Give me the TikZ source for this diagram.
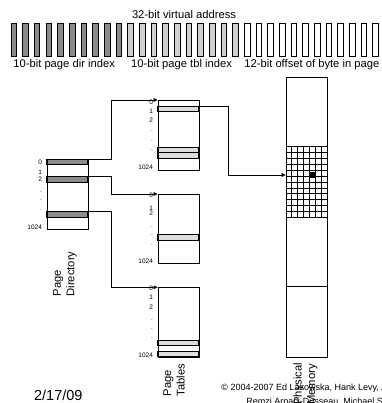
\documentclass[tikz,border=0pt]{standalone}
\usepackage{fontspec}
\setmainfont{Liberation Sans}
\usetikzlibrary{arrows.meta,calc}
\definecolor{bitdark}{HTML}{8A8A8A}
\definecolor{bitlight}{HTML}{D0D0D0}
\definecolor{banddark}{HTML}{8C8C8C}
\definecolor{bandlight}{HTML}{DDDDDD}
\begin{document}
\begin{tikzpicture}[x=1pt,y=-1pt,line width=0.8pt,
  tbl/.style={draw,inner sep=0pt,minimum width=40.8pt,minimum height=69.5pt,anchor=north west},
  rowlbl/.style={font=\fontsize{6.5}{7}\selectfont,anchor=base east,inner sep=0pt},
  lbl/.style={font=\fontsize{11.2}{13.4}\selectfont,inner sep=0pt},
  vlbl/.style={font=\fontsize{11.2}{13.4}\selectfont,inner sep=0pt,align=left,rotate=90,anchor=west},
  arr/.style={-{Triangle[length=4pt,width=3.6pt]}},
  bitbox/.style={draw,line width=0.9pt},
  dband/.style={draw,fill=banddark},
  lband/.style={draw,fill=bandlight},
  foot/.style={inner sep=0pt,anchor=base west,font=\fontsize{9}{10}\selectfont}
]
\useasboundingbox (0,0) rectangle (381,403);
\fill[white] (0,0) rectangle (381,403);

% virtual address bits
\node[lbl,anchor=base] (title) at (184,19) {32-bit virtual address};
\foreach \i in {0,...,31}{
  \pgfmathsetmacro{\xx}{11+\i*11.67}
  \ifnum\i<10 \def\bc{bitdark}\else\ifnum\i<20 \def\bc{bitlight}\else\def\bc{white}\fi\fi
  \draw[bitbox,fill=\bc] (\xx,23) rectangle ++(5.6,33);
}
\node[lbl,anchor=base west] (l1) at (13,68) {10-bit page dir index};
\node[lbl,anchor=base west] (l2) at (130.7,68) {10-bit page tbl index};
\node[lbl,anchor=base west] (l3) at (244,68) {12-bit offset of byte in page};

% page directory
\draw[dband] (46.7,159) rectangle (87.7,164.3);
\draw[dband] (46.7,176.7) rectangle (87.7,182.3);
\draw[dband] (46.7,211) rectangle (87.7,217.3);
\node[tbl,minimum width=41pt,minimum height=70pt] (pd) at (46.7,159) {};
\node[rowlbl] at (42.3,164.1) {0};
\node[rowlbl] at (42.3,174.1) {1};
\node[rowlbl] at (42.3,181.7) {2};
\node[rowlbl] at (42.3,192) {.};
\node[rowlbl] at (42.3,200.5) {.};
\node[rowlbl] at (42.3,210.5) {.};
\node[rowlbl] at (42.3,229) {1024};
\node[vlbl] (pdl) at (65,296.7) {Page\\Directory};

% page table 1
\draw[lband] (157.7,106) rectangle (198.5,111.7);
\draw[lband] (157.7,147) rectangle (198.5,152.7);
\draw[lband] (157.7,152.7) rectangle (198.5,158.5);
\node[tbl] (pt1) at (157.7,100) {};
\node[rowlbl] at (153.3,105) {0};
\node[rowlbl] at (153.3,114) {1};
\node[rowlbl] at (153.3,122.4) {2};
\node[rowlbl] at (153.3,132) {.};
\node[rowlbl] at (153.3,141.3) {.};
\node[rowlbl] at (153.3,150.3) {.};
\node[rowlbl] at (153.3,170) {1024};

% page table 2
\draw[lband] (157.7,234) rectangle (198.5,240);
\node[tbl,minimum height=68.7pt] (pt2) at (157.7,194) {};
\node[rowlbl] at (153.3,197.4) {0};
\node[rowlbl] at (153.3,210.7) {1};
\node[rowlbl] at (153.3,215.7) {2};
\node[rowlbl] at (153.3,227) {.};
\node[rowlbl] at (153.3,235.3) {.};
\node[rowlbl] at (153.3,245.3) {.};
\node[rowlbl] at (153.3,263) {1024};

% page table 3
\draw[lband] (157.7,340) rectangle (198.5,345.3);
\draw[lband] (157.7,351.3) rectangle (198.5,356.7);
\node[tbl,minimum height=69.4pt] (pt3) at (157.7,287.3) {};
\node[rowlbl] at (153.3,290.7) {0};
\node[rowlbl] at (153.3,299.7) {1};
\node[rowlbl] at (153.3,309.1) {2};
\node[rowlbl] at (153.3,320.3) {.};
\node[rowlbl] at (153.3,329.6) {.};
\node[rowlbl] at (153.3,338.6) {.};
\node[rowlbl] at (153.3,357.4) {1024};
\node[vlbl] (ptl) at (174,396.7) {Page\\Tables};

% physical memory
\node[tbl,minimum width=41.6pt,minimum height=279.4pt] (pm) at (285.7,77.3) {};
\foreach \k in {1,...,6}{
  \draw[line width=0.6pt] (285.7+\k*5.943,146.7) -- (285.7+\k*5.943,217.3);
}
\foreach \k in {1,...,11}{
  \draw[line width=0.6pt] (285.7,146.7+\k*5.883) -- (327.3,146.7+\k*5.883);
}
\draw (285.7,146.7) -- (327.3,146.7);
\draw (285.7,217.3) -- (327.3,217.3);
\draw (285.7,286.7) -- (327.3,286.7);
\fill[black] (309.4,172.2) rectangle (315.4,177.8);
\node[vlbl] (pml) at (305.5,405) {Physical\\Memory};

% connectors
\coordinate (pdr2) at ($(pd.north east)+(0,17.7)$);
\coordinate (pdr3) at ($(pd.north east)+(0,52)$);
\coordinate (pt1r1) at ($(pt1.north east)+(0,6)$);
\coordinate (pmin) at ($(pm.north west)+(0,97.7)$);
\draw[arr] (pd.north east) -- ++(23,0) |- (pt1.north west);
\draw[arr] (pdr2) -- ++(23,0) |- (pt2.north west);
\draw[arr] (pdr3) -- ++(23,0) |- (pt3.north west);
\draw[arr] (pt1r1) -- ++(29.4,0) |- (pmin);

% footer
\node[inner sep=0pt,anchor=base,font=\fontsize{14.5}{16}\selectfont] (date) at (58.3,400) {2/17/09};
\node[foot] (cp1) at (221,390) {© 2004-2007 Ed Lazowska, Hank Levy, A};
\node[foot] (cp2) at (246,404.5) {Remzi Arpaci-Dusseau, Michael S};
\end{tikzpicture}
\end{document}
